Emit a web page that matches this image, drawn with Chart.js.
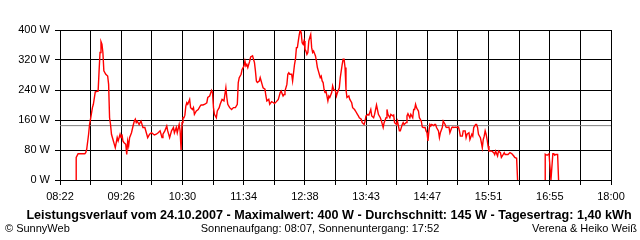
<!DOCTYPE html>
<html><head><meta charset="utf-8">
<script src="https://cdn.jsdelivr.net/npm/chart.js@4"></script>
<style>html,body{margin:0;padding:0;background:#fff}#wrap{width:640px;height:240px}</style>
</head><body><div id="wrap"><canvas id="c" width="640" height="240"></canvas></div>
<script>
const tickLabels = ["08:22","09:26","10:30","11:34","12:38","13:43","14:47","15:51","16:55","18:00"];
const yTicks = [0, 80, 160, 240, 320, 400];
const averageW = 145;
const titleText = "Leistungsverlauf vom 24.10.2007 - Maximalwert: 400 W - Durchschnitt: 145 W - Tagesertrag: 1,40 kWh";
const footerLeft = "\u00A9 SunnyWeb";
const footerCenter = "Sonnenaufgang: 08:07, Sonnenuntergang: 17:52";
const footerRight = "Verena & Heiko Wei\u00DF";
const times = ["08:39","08:39","08:41","08:48","08:49","08:50","08:52","08:53","08:54","08:56","08:57","08:59","09:02","09:03","09:04","09:05","09:06","09:07","09:08","09:10","09:12","09:13","09:14","09:15","09:16","09:18","09:19","09:20","09:22","09:23","09:25","09:26","09:27","09:28","09:29","09:31","09:32","09:33","09:34","09:35","09:37","09:39","09:40","09:41","09:42","09:43","09:45","09:46","09:47","09:49","09:51","09:53","09:54","09:56","09:58","10:00","10:01","10:03","10:05","10:07","10:09","10:10","10:12","10:14","10:15","10:17","10:19","10:21","10:22","10:24","10:25","10:27","10:28","10:29","10:30","10:31","10:32","10:33","10:34","10:35","10:36","10:38","10:39","10:41","10:42","10:43","10:45","10:47","10:49","10:50","10:52","10:54","10:56","10:57","10:59","11:01","11:02","11:03","11:04","11:06","11:07","11:09","11:10","11:12","11:14","11:16","11:17","11:18","11:20","11:22","11:24","11:26","11:28","11:29","11:30","11:32","11:33","11:35","11:36","11:37","11:38","11:39","11:41","11:42","11:44","11:45","11:46","11:47","11:48","11:49","11:51","11:52","11:53","11:54","11:55","11:57","11:58","11:59","12:01","12:02","12:04","12:06","12:07","12:09","12:11","12:13","12:14","12:16","12:17","12:18","12:20","12:21","12:22","12:23","12:25","12:26","12:27","12:28","12:29","12:30","12:31","12:32","12:33","12:34","12:35","12:36","12:37","12:38","12:39","12:40","12:41","12:42","12:43","12:44","12:45","12:46","12:47","12:48","12:50","12:51","12:52","12:53","12:54","12:55","12:56","12:57","12:58","12:59","13:00","13:01","13:03","13:04","13:05","13:07","13:08","13:09","13:11","13:12","13:13","13:15","13:16","13:18","13:19","13:20","13:21","13:22","13:23","13:25","13:26","13:28","13:29","13:31","13:32","13:34","13:35","13:36","13:38","13:39","13:41","13:42","13:43","13:45","13:46","13:48","13:49","13:51","13:52","13:54","13:55","13:56","13:58","13:59","14:01","14:02","14:04","14:05","14:06","14:08","14:09","14:11","14:12","14:13","14:15","14:16","14:18","14:19","14:21","14:22","14:23","14:25","14:26","14:27","14:29","14:30","14:32","14:33","14:34","14:35","14:36","14:37","14:38","14:39","14:40","14:41","14:42","14:43","14:45","14:46","14:47","14:48","14:49","14:50","14:51","14:52","14:54","14:55","14:56","14:57","14:59","15:00","15:01","15:03","15:04","15:06","15:07","15:08","15:10","15:11","15:13","15:14","15:15","15:17","15:18","15:20","15:21","15:22","15:24","15:25","15:27","15:28","15:29","15:31","15:32","15:34","15:35","15:36","15:38","15:39","15:40","15:41","15:43","15:44","15:45","15:46","15:47","15:48","15:49","15:50","15:51","15:52","15:54","15:55","15:57","15:58","15:59","16:01","16:02","16:04","16:05","16:06","16:08","16:09","16:11","16:12","16:14","16:16","16:18","16:19","16:21","16:22","16:37","16:51","16:51","16:53","16:55","16:56","16:57","16:59","17:00","17:01","17:02","17:04","17:05"];
const watts = [0,60,70,70,73,82,122,148,162,193,202,235,237,291,340,369,362,340,291,282,277,255,166,148,122,104,95,86,113,104,122,113,122,104,100,95,68,104,91,113,126,148,157,162,153,157,148,153,157,140,140,122,113,122,126,122,120,122,126,131,113,122,131,144,131,113,131,140,126,140,126,148,131,80,153,166,166,173,197,206,202,215,193,188,193,175,184,188,197,200,200,202,206,220,224,239,233,193,175,166,184,193,202,215,211,246,220,202,193,188,193,193,202,260,273,282,295,304,317,304,308,300,317,328,331,322,313,291,264,260,264,273,264,255,246,242,224,211,215,202,209,206,204,209,215,233,237,224,228,237,255,282,286,282,282,264,286,308,322,353,353,371,388,400,393,366,362,371,348,344,335,340,371,380,388,353,340,344,331,317,300,291,282,273,277,264,260,242,233,237,211,224,220,233,251,242,237,224,233,246,273,308,322,322,300,242,220,224,215,206,193,188,184,175,171,166,162,153,148,157,171,175,173,188,171,166,175,200,188,175,166,159,140,153,166,188,175,166,175,171,173,153,148,157,131,131,148,153,148,153,171,177,166,175,166,188,188,202,193,188,184,166,162,157,142,140,140,131,126,104,131,148,144,148,145,148,148,140,131,113,126,140,157,148,141,140,141,126,140,141,140,141,140,141,131,117,117,131,131,113,122,126,108,122,117,140,148,148,140,122,113,100,86,108,117,131,122,108,91,77,77,77,73,68,77,64,77,73,60,64,73,68,68,68,73,70,64,60,58,0,null,0,69,66,70,70,0,70,70,66,68,68,0];

function toMin(t){ const p = t.split(":"); return (+p[0])*60 + (+p[1]); }
const xMin = toMin(tickLabels[0]);
const xMax = toMin(tickLabels[tickLabels.length-1]);
const series = times.map((t,i)=>({x: toMin(t), y: watts[i]}));
const avgLine = [{x: xMin, y: averageW}, {x: xMax, y: averageW}];
const FONT = '"Liberation Sans", Arial, sans-serif';

const textPlugin = {
  id: 'texts',
  afterDraw(chart){
    const ctx = chart.ctx;
    ctx.save();
    ctx.fillStyle = '#000';
    ctx.textBaseline = 'middle';
    ctx.font = 'bold 12.6px ' + FONT;
    ctx.textAlign = 'center';
    ctx.fillText(titleText, 329, 216);
    ctx.font = '11px ' + FONT;
    ctx.textAlign = 'left';
    ctx.fillText(footerLeft, 5, 229);
    ctx.textAlign = 'center';
    ctx.fillText(footerCenter, 320, 229);
    ctx.textAlign = 'right';
    ctx.fillText(footerRight, 637, 229);
    ctx.restore();
  }
};

new Chart(document.getElementById('c'), {
  type: 'line',
  data: { datasets: [
    { data: avgLine, borderColor: '#808080', borderWidth: 1, pointRadius: 0, tension: 0, order: 2 },
    { data: series, borderColor: '#ff0000', borderWidth: 1.4, pointRadius: 0, tension: 0, spanGaps: false, order: 1 }
  ]},
  options: {
    responsive: false, animation: false,
    events: [],
    layout: { padding: { left: 0, right: 29, top: 30, bottom: 0 } },
    plugins: { legend: { display: false }, tooltip: { enabled: false } },
    scales: {
      x: {
        type: 'linear', min: xMin, max: xMax,
        afterBuildTicks(s){
          const n = (tickLabels.length - 1) * 2;
          const arr = [];
          for (let i = 0; i <= n; i++) arr.push({ value: xMin + (xMax - xMin) * i / n });
          s.ticks = arr;
        },
        afterFit(s){ s.height = 60; },
        ticks: { autoSkip: false, maxRotation: 0, minRotation: 0, padding: 5, color: '#000',
          font: { family: FONT, size: 11 },
          callback(v, i){ return i % 2 === 0 ? tickLabels[i/2] : ''; } },
        grid: { color: '#000', lineWidth: 1, tickLength: 5, tickColor: '#000' },
        border: { color: '#000', width: 1 }
      },
      y: {
        min: 0, max: 400,
        afterBuildTicks(s){ s.ticks = yTicks.map(v => ({ value: v })); },
        afterFit(s){ s.width = 60; },
        ticks: { padding: 5, color: '#000', font: { family: FONT, size: 11 },
          callback(v){ return v + ' W'; } },
        grid: { color: '#000', lineWidth: 1, tickLength: 5, tickColor: '#000' },
        border: { color: '#000', width: 1 }
      }
    }
  },
  plugins: [textPlugin]
});
</script></body></html>
